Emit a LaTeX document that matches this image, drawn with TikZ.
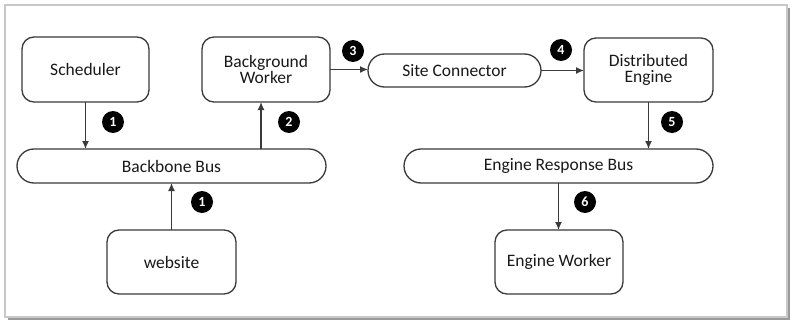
\documentclass[tikz,border=0pt]{standalone}
\usepackage{fontspec}
\setmainfont{Carlito}
\usetikzlibrary{shapes.misc,arrows.meta}
\definecolor{edge}{HTML}{3A3A3A}
\definecolor{framec}{HTML}{C8C8C8}
\definecolor{shadowc}{HTML}{9A9A9A}
\tikzset{
  box/.style={draw=edge, line width=1.3pt, rounded corners=12pt, fill=white,
    inner sep=0pt, outer sep=0pt, align=center,
    font=\fontsize{17.5}{16.5}\selectfont, text=black!90},
  bus/.style={draw=edge, line width=1.3pt, rounded rectangle, fill=white,
    inner sep=0pt, outer sep=0pt, minimum height=34pt,
    font=\fontsize{17.5}{16.5}\selectfont, text=black!90},
  conn/.style={draw=edge, line width=1.4pt, -{Latex[length=8pt,width=7pt]}},
  badge/.style={circle, fill=black, text=white, inner sep=0pt, minimum size=22pt,
    font=\fontsize{14}{14}\selectfont\bfseries}
}
\begin{document}
\begin{tikzpicture}[x=1pt,y=-1pt]
\useasboundingbox (0,0) rectangle (792,321);
% frame with shadow
\fill[shadowc] (8,8) rectangle (790,320);
\fill[white] (5,5) rectangle (787,317);
\draw[framec, line width=1.5pt] (5,5) rectangle (787,317);

\node[box, minimum width=127pt, minimum height=65pt] (sched) at (85.5,69.5) {Scheduler};
\node[box, minimum width=128pt, minimum height=65pt] (bgw) at (266,69.5) {Background\\Worker};
\node[bus, minimum width=173pt, minimum height=33pt] (site) at (454.5,70.5) {Site Connector};
\node[box, minimum width=129pt, minimum height=64pt] (de) at (648.5,70) {Distributed\\Engine};
\node[bus, minimum width=309pt] (bb) at (171.5,166) {Backbone Bus};
\node[box, minimum width=129pt, minimum height=64pt] (web) at (171.5,262) {website};
\node[bus, minimum width=309pt] (erb) at (558.5,166) {Engine Response Bus};
\node[box, minimum width=128pt, minimum height=64pt] (ew) at (559,262) {Engine Worker};

\draw[conn] (sched.south) -- (sched.south |- bb.north);
\draw[conn] ([xshift=-5pt]bgw.south |- bb.north) -- ([xshift=-5pt]bgw.south);
\draw[conn] (bgw.east) -- (bgw.east -| site.west);
\draw[conn] (site.east) -- (site.east -| de.west);
\draw[conn] (de.south) -- (de.south |- erb.north);
\draw[conn] (web.north) -- (web.north |- bb.south);
\draw[conn] (erb.south) -- (erb.south |- ew.north);

\node[badge] (b1) at (113,122) {1};
\node[badge] (b2) at (289,122) {2};
\node[badge] (b3) at (353,51) {3};
\node[badge] (b4) at (561,50) {4};
\node[badge] (b5) at (672,122) {5};
\node[badge] (b1b) at (202,202) {1};
\node[badge] (b6) at (585,202) {6};
\end{tikzpicture}
\end{document}
